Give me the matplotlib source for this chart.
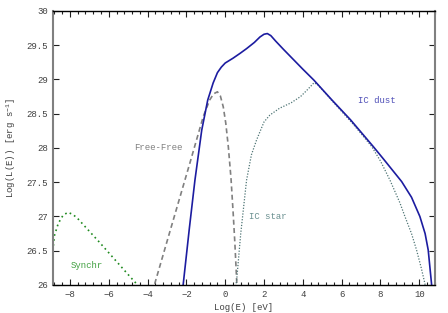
import numpy as np
import matplotlib.pyplot as plt
import matplotlib
from matplotlib.ticker import MultipleLocator

matplotlib.rcParams.update({
    'font.family': 'Liberation Mono',
    'font.size': 6.5,
    'mathtext.fontset': 'custom',
    'mathtext.rm': 'Liberation Mono',
    'mathtext.it': 'Liberation Mono',
})

# curves (Log E [eV], Log L [erg/s])
ic_dust_x = [-2.25, -2.16, -1.85, -1.56, -1.21, -0.9, -0.62, -0.4, -0.2, 0.0, 0.4, 0.76,
             1.1, 1.5, 1.79, 2.0, 2.17, 2.35, 2.6, 3.0, 4.0, 4.57, 5.5, 6.46, 7.63, 8.18,
             9.09, 9.6, 10.03, 10.3, 10.46, 10.63, 10.7]
ic_dust_y = [25.8, 26.02, 26.82, 27.53, 28.26, 28.7, 28.95, 29.1, 29.18, 29.24, 29.31, 29.38,
             29.45, 29.54, 29.62, 29.66, 29.67, 29.64, 29.56, 29.44, 29.15, 28.99, 28.70, 28.41, 28.02, 27.83,
             27.51, 27.28, 27.0, 26.75, 26.51, 26.02, 25.8]

free_x = [-3.75, -3.65, -2.85, -1.82, -1.13, -0.8, -0.6, -0.4, -0.25, -0.1, 0.03, 0.16,
          0.3, 0.41, 0.5, 0.59, 0.62]
free_y = [25.9, 26.0, 26.78, 27.78, 28.46, 28.7, 28.79, 28.82, 28.76, 28.6, 28.36, 28.02,
          27.55, 27.05, 26.6, 26.07, 25.9]

star_x = [0.5, 0.59, 0.8, 1.1, 1.35, 1.62, 2.0, 2.3, 2.8, 3.4, 3.88, 4.2, 4.57, 4.75, 5.0,
          5.5, 6.46, 7.0, 7.55, 8.0, 8.49, 9.0, 9.26, 9.6, 9.86, 10.1, 10.29, 10.35]
star_y = [25.9, 26.07, 26.75, 27.53, 27.9, 28.12, 28.38, 28.48, 28.58, 28.66, 28.75, 28.84, 28.95, 28.93, 28.85,
          28.69, 28.39, 28.21, 28.02, 27.81, 27.53, 27.2, 27.0, 26.75, 26.51, 26.25, 26.02, 25.9]

sync_x = [-8.88, -8.8, -8.6, -8.35, -8.1, -7.85, -7.6, -7.31, -6.5, -5.59, -4.9, -4.48, -4.4]
sync_y = [26.5, 26.72, 26.9, 27.02, 27.06, 27.03, 26.97, 26.88, 26.63, 26.34, 26.12, 25.99, 25.96]

fig = plt.figure(figsize=(4.48, 3.13), dpi=100)
ax = fig.add_axes([0.118, 0.0895, 0.853, 0.8755])

ax.plot(sync_x, sync_y, color='#1f8a1f', lw=1.2, ls=(0, (1, 2)))
ax.plot(free_x, free_y, color='#808080', lw=1.2, ls=(0, (3, 2)))
ax.plot(star_x, star_y, color='#4f7575', lw=0.9, ls=(0, (1, 1.3)))
ax.plot(ic_dust_x, ic_dust_y, color='#1c1ca0', lw=1.2)

ax.text(-3.47, 28.0, 'Free-Free', color='#808080', ha='center', va='center')
ax.text(7.79, 28.70, 'IC dust', color='#5050b8', ha='center', va='center')
ax.text(2.2, 27.0, 'IC star', color='#6a9090', ha='center', va='center')
ax.text(-7.14, 26.28, 'Synchr', color='#40a040', ha='center', va='center')

ax.set_xlim(-8.88, 10.81)
ax.set_ylim(26, 30)
ax.xaxis.set_major_locator(MultipleLocator(2))
ax.xaxis.set_minor_locator(MultipleLocator(0.4))
ax.yaxis.set_major_locator(MultipleLocator(0.5))
ax.yaxis.set_major_formatter(matplotlib.ticker.FuncFormatter(lambda v, p: f'{v:g}'))
ax.tick_params(which='both', direction='in', top=True, right=True, colors='#202020',
               labelcolor='#404040', labelsize=6.5, width=0.8)
ax.tick_params(which='major', length=4)
ax.tick_params(which='minor', length=2)
for s in ['left', 'right']:
    ax.spines[s].set_color('#808080')
    ax.spines[s].set_linewidth(1.5)
for s in ['top', 'bottom']:
    ax.spines[s].set_color('black')
    ax.spines[s].set_linewidth(1.0)

ax.set_xlabel('Log(E) [eV]', color='#404040', fontsize=6.5, labelpad=3)
ax.set_ylabel(r'Log(L(E)) [erg s$^{-1}$]', color='#404040', fontsize=6.5)
ax.yaxis.set_label_coords(-0.092, 0.5)

fig.savefig('out.png', dpi=100)
